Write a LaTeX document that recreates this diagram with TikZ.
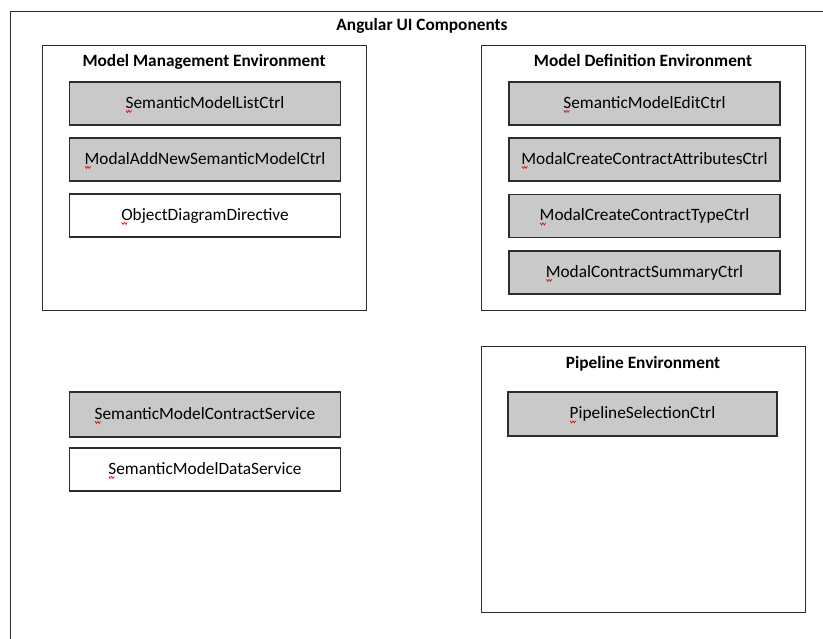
\documentclass[tikz,border=0pt]{standalone}
\usepackage{fontspec}
\setmainfont{Carlito}
\usetikzlibrary{calc}
\definecolor{boxgray}{RGB}{201,201,201}
\definecolor{edgegray}{RGB}{45,45,45}

% A component box with its name and the spell-check mark under the first letter
\newcommand\component[5]{%
  \node[#4] (#1) at (#2,#3) {};
  \node[lbl] (#1-t) at ($(#1.center)+(0,4.8)$) {#5};
  \draw[spell] ($(#1-t.base west)+(0.6,2)$) -- ++(1.4,2.2) -- ++(1.4,-2.2) -- ++(1.4,2.2) -- ++(1.4,-2.2);
}

\begin{document}
\begin{tikzpicture}[x=1pt,y=-1pt,
  frame/.style={draw=edgegray, line width=1.4pt, anchor=north west, inner sep=0pt},
  env/.style={draw=edgegray, line width=1.2pt, fill=white, anchor=north west, inner sep=0pt,
              minimum width=324pt},
  ctrl/.style={draw=edgegray, line width=1.3pt, fill=boxgray, minimum width=271pt,
               minimum height=43pt, inner sep=0pt},
  plain/.style={ctrl, fill=white},
  lbl/.style={inner sep=0pt, anchor=base, font=\fontsize{17.3}{20}\selectfont},
  heading/.style={inner sep=0pt, anchor=base, font=\fontsize{17.3}{20}\selectfont\bfseries},
  spell/.style={draw=red!85!black, line width=0.6pt}
]
\useasboundingbox (0,0) rectangle (823,639);
\clip (0,0) rectangle (823,639);
\fill[white] (0,0) rectangle (823,639);

% outer container
\node[frame, minimum width=850pt, minimum height=660pt] (ui) at (10,11) {};
\node[heading] (ui-title) at (422,31) {Angular UI Components};

% environments
\node[env, minimum height=265pt] (mme) at (42,45) {};
\node[heading] (mme-title) at (204,66.5) {Model Management Environment};

\node[env, minimum height=265pt] (mde) at (481,45) {};
\node[heading] (mde-title) at (643,66.5) {Model Definition Environment};

\node[env, minimum height=266pt] (pe) at (481,346) {};
\node[heading] (pe-title) at (643,368.3) {Pipeline Environment};

% Model Management Environment
\component{smlist}{205}{103.5}{ctrl}{SemanticModelListCtrl}
\component{addnew}{205}{159.5}{ctrl}{ModalAddNewSemanticModelCtrl}
\component{objdiag}{205}{215.5}{plain}{ObjectDiagramDirective}

% Model Definition Environment
\component{smedit}{644.5}{103.5}{ctrl}{SemanticModelEditCtrl}
\component{attrs}{644.5}{159.5}{ctrl}{ModalCreateContractAttributesCtrl}
\component{ctype}{644.5}{216}{ctrl}{ModalCreateContractTypeCtrl}
\component{summary}{644.5}{272.5}{ctrl}{ModalContractSummaryCtrl}

% Pipeline Environment
\component{pipesel}{642.5}{414}{ctrl, minimum width=269pt, minimum height=44pt}{PipelineSelectionCtrl}

% shared services
\component{contractsvc}{205}{414.5}{ctrl, minimum height=45pt}{SemanticModelContractService}
\component{datasvc}{205}{469.5}{plain}{SemanticModelDataService}
\end{tikzpicture}
\end{document}
